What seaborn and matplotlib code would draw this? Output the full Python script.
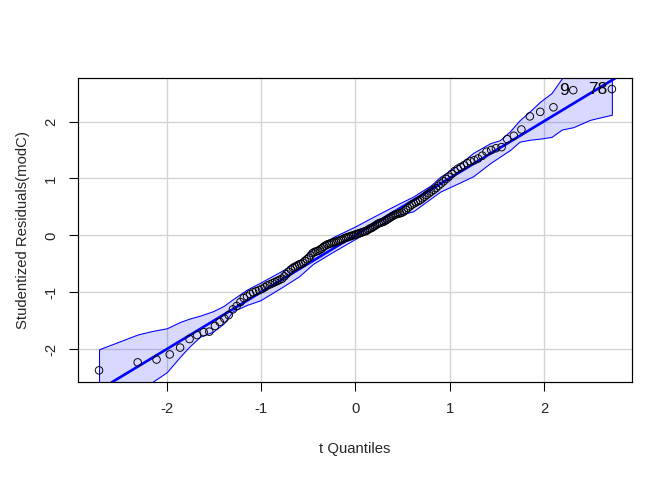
import numpy as np
import pandas as pd
import matplotlib
matplotlib.use("Agg")
import matplotlib.pyplot as plt
import seaborn as sns

# theoretical t quantiles
t_lower = [-2.72, -2.31, -2.11, -1.97, -1.86, -1.76, -1.68, -1.61, -1.55, -1.49,
           -1.44, -1.39, -1.345, -1.30, -1.26, -1.22, -1.185, -1.15, -1.117, -1.084,
           -1.052, -1.021, -0.991, -0.962, -0.935, -0.907, -0.880, -0.854, -0.829, -0.804,
           -0.779, -0.755, -0.732, -0.709, -0.686, -0.663, -0.641, -0.619, -0.598, -0.577,
           -0.556, -0.535, -0.514, -0.494, -0.474, -0.454, -0.434, -0.414, -0.395, -0.376,
           -0.357, -0.338, -0.319, -0.300, -0.281, -0.263, -0.244, -0.226, -0.208, -0.189,
           -0.171, -0.153, -0.135, -0.117, -0.099, -0.081, -0.063, -0.045, -0.027, -0.009]
t_upper = [0.009, 0.027, 0.045, 0.063, 0.081, 0.099, 0.117, 0.135, 0.153, 0.171,
           0.189, 0.208, 0.226, 0.244, 0.263, 0.281, 0.300, 0.319, 0.338, 0.357,
           0.376, 0.395, 0.414, 0.434, 0.454, 0.474, 0.494, 0.514, 0.535, 0.556,
           0.577, 0.598, 0.619, 0.641, 0.663, 0.686, 0.709, 0.732, 0.755, 0.779,
           0.804, 0.829, 0.854, 0.880, 0.907, 0.935, 0.962, 0.991, 1.021, 1.052,
           1.084, 1.117, 1.15, 1.185, 1.22, 1.26, 1.30, 1.345, 1.39, 1.44,
           1.49, 1.55, 1.61, 1.68, 1.76, 1.85, 1.96, 2.10, 2.31, 2.72]

# sorted studentized residuals
r_lower = [-2.37, -2.23, -2.18, -2.09, -1.97, -1.82, -1.75, -1.70, -1.69, -1.59,
           -1.52, -1.46, -1.40, -1.30, -1.24, -1.17, -1.10, -1.07, -1.03, -1.00,
           -0.98, -0.96, -0.94, -0.91, -0.88, -0.86, -0.84, -0.82, -0.80, -0.78,
           -0.76, -0.72, -0.68, -0.64, -0.60, -0.57, -0.55, -0.53, -0.51, -0.50,
           -0.48, -0.45, -0.42, -0.39, -0.35, -0.31, -0.29, -0.28, -0.27, -0.25,
           -0.23, -0.20, -0.18, -0.16, -0.15, -0.14, -0.13, -0.12, -0.11, -0.10,
           -0.09, -0.08, -0.07, -0.05, -0.04, -0.03, -0.02, -0.01, 0.00, 0.01]
r_upper = [0.02, 0.03, 0.04, 0.05, 0.06, 0.07, 0.08, 0.10, 0.12, 0.13,
           0.15, 0.17, 0.19, 0.21, 0.22, 0.23, 0.24, 0.26, 0.28, 0.30,
           0.32, 0.34, 0.36, 0.37, 0.38, 0.39, 0.40, 0.42, 0.45, 0.48,
           0.51, 0.54, 0.56, 0.58, 0.60, 0.62, 0.65, 0.68, 0.71, 0.74,
           0.77, 0.80, 0.83, 0.87, 0.91, 0.95, 0.99, 1.03, 1.08, 1.13,
           1.17, 1.20, 1.23, 1.27, 1.30, 1.32, 1.35, 1.40, 1.47, 1.50,
           1.53, 1.55, 1.69, 1.75, 1.86, 2.09, 2.17, 2.25, 2.55, 2.57]

# confidence envelope
env_x = [-2.72, -2.31, -2.16, -2.0, -1.86, -1.76, -1.65, -1.51, -1.40, -1.30,
         -1.15, -1.01, -0.80, -0.60, -0.45, -0.25, 0.0, 0.25, 0.45, 0.61,
         0.80, 0.90, 1.11, 1.25, 1.43, 1.53, 1.64, 1.74, 1.85, 1.96,
         2.08, 2.19, 2.31, 2.49, 2.72]
env_hi = [-2.00, -1.74, -1.68, -1.63, -1.52, -1.46, -1.41, -1.33, -1.24, -1.12,
          -0.95, -0.83, -0.64, -0.44, -0.24, -0.04, 0.16, 0.38, 0.55, 0.68,
          0.88, 1.03, 1.26, 1.45, 1.62, 1.67, 1.83, 2.02, 2.18, 2.35,
          2.50, 2.76, 3.00, 3.25, 3.50]
env_lo = [-3.40, -2.90, -2.58, -2.40, -2.13, -1.95, -1.78, -1.69, -1.55, -1.33,
          -1.22, -1.14, -0.93, -0.72, -0.50, -0.30, -0.06, 0.17, 0.36, 0.42,
          0.65, 0.77, 0.93, 1.04, 1.27, 1.38, 1.50, 1.645, 1.68, 1.70,
          1.73, 1.86, 1.90, 2.03, 2.12]

# reference line
line_intercept = 0.005
line_slope = 1.0

# labelled points
id_labels = ["9", "78"]
id_x = [2.31, 2.72]
id_y = [2.55, 2.57]

x_ticks = [-2, -1, 0, 1, 2]
y_ticks = [-2, -1, 0, 1, 2]

df = pd.DataFrame({"t": t_lower + t_upper, "r": r_lower + r_upper})

sns.set_theme(style="white")
plt.rcParams["font.family"] = ["Liberation Sans", "DejaVu Sans"]

fig = plt.figure(figsize=(7, 5), dpi=96)
ax = fig.add_axes([0.1165, 0.2035, 0.8235, 0.6335])

ax.set_xlim(-2.94, 2.93)
ax.set_ylim(-2.58, 2.76)

for v in x_ticks:
    ax.axvline(v, color="#d3d3d3", lw=1, zorder=0)
for v in y_ticks:
    ax.axhline(v, color="#d3d3d3", lw=1, zorder=0)

ax.fill_between(env_x, env_lo, env_hi, facecolor=(0, 0, 1, 0.15),
                edgecolor="blue", linewidth=0.8, zorder=1)
ax.axline((0, line_intercept), slope=line_slope, color="blue", lw=2, zorder=2)

sns.scatterplot(data=df, x="t", y="r", ax=ax, marker="o", s=32,
                facecolor="none", edgecolor="black", linewidth=0.7, zorder=3)

for lab, xx, yy in zip(id_labels, id_x, id_y):
    ax.annotate(lab, (xx, yy), xytext=(-3.5, 0), textcoords="offset points",
                ha="right", va="center", fontsize=13, color="black")

ax.set_xticks(x_ticks)
ax.set_yticks(y_ticks)
ax.set_xticklabels([str(v) for v in x_ticks])
ax.set_yticklabels([str(v) for v in y_ticks], rotation=90, va="center")
ax.tick_params(axis="both", which="both", direction="out", length=7, width=0.8,
               color="black", labelsize=11.2, pad=8, left=True, bottom=True)

for s in ax.spines.values():
    s.set_color("black")
    s.set_linewidth(0.9)

ax.set_xlabel("t Quantiles", fontsize=11.2, labelpad=19)
ax.set_ylabel("Studentized Residuals(modC)", fontsize=11.2, labelpad=11)

fig.savefig("out.png", dpi=96)
